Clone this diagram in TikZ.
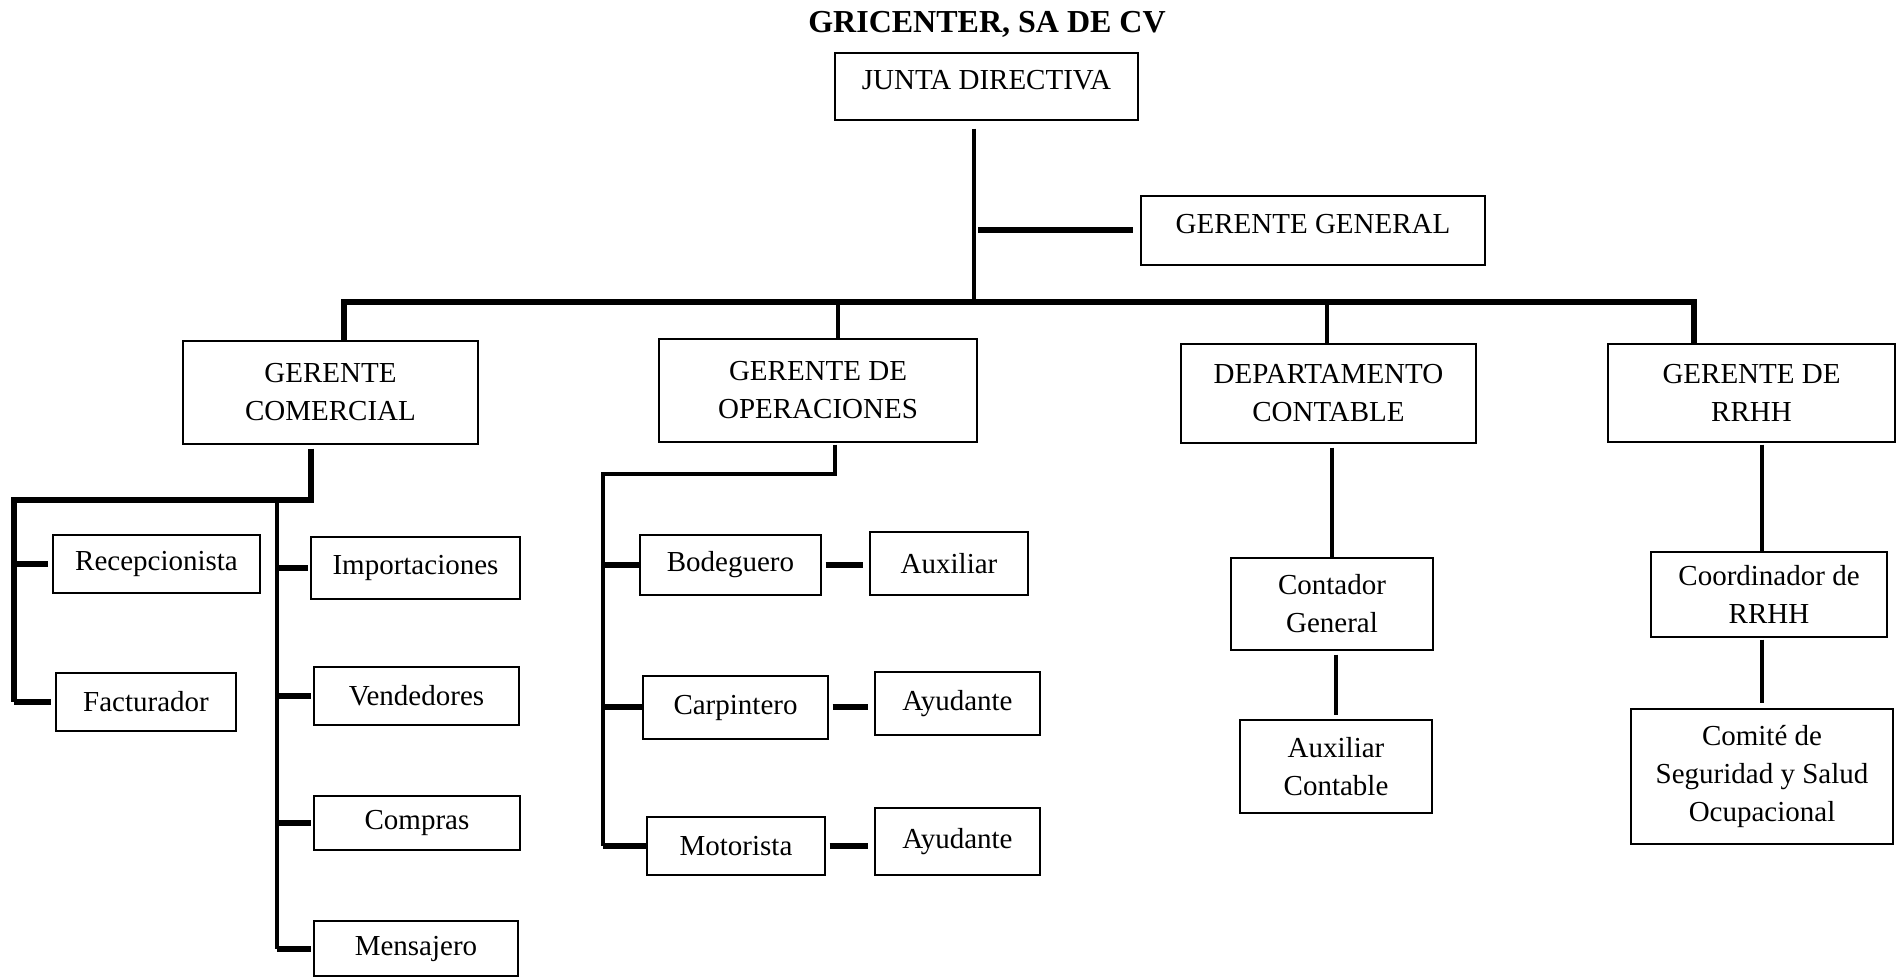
\documentclass[tikz,border=0pt]{standalone}
\usepackage{fontspec}
\setmainfont{Liberation Serif}
\tikzset{
  caja/.style={draw, line width=0.7pt, align=center, inner sep=0pt,
    font=\fontsize{14.5}{19}\selectfont},
  titulo/.style={font=\bfseries\fontsize{16}{19}\selectfont},
  linea/.style={line width=2.3pt, line join=miter},
  tramo/.style={line width=3pt}
}
\begin{document}
\begin{tikzpicture}[x=0.5pt, y=-0.5pt]
	\useasboundingbox (0,0) rectangle (1900,977);
	% title and top level
	\node[titulo] (title) at (987,24) {GRICENTER, SA DE CV};
	\node[caja, minimum width=151.5pt, minimum height=33.5pt, text depth=6.5pt] (junta) at (986.5,86.5) {JUNTA DIRECTIVA};
	\node[caja, minimum width=172pt, minimum height=34.5pt, text depth=6.5pt] (gg) at (1313,230.5) {GERENTE GENERAL};
	% managers
	\node[caja, minimum width=147.5pt, minimum height=51.5pt] (gc) at (330.5,392.5) {GERENTE\\COMERCIAL};
	\node[caja, minimum width=159pt, minimum height=51.5pt] (go) at (818,390.5) {GERENTE DE\\OPERACIONES};
	\node[caja, minimum width=147.5pt, minimum height=49.5pt] (dc) at (1328.5,393.5) {DEPARTAMENTO\\CONTABLE};
	\node[caja, minimum width=143.5pt, minimum height=49pt] (grh) at (1751.5,393) {GERENTE DE\\RRHH};
	% comercial
	\node[caja, minimum width=103.5pt, minimum height=29pt] (rec) at (156.5,564) {Recepcionista};
	\node[caja, minimum width=90pt, minimum height=29pt] (fac) at (146,702) {Facturador};
	\node[caja, minimum width=104.5pt, minimum height=31pt] (imp) at (415.5,568) {Importaciones};
	\node[caja, minimum width=102.5pt, minimum height=29pt] (ven) at (416.5,696) {Vendedores};
	\node[caja, minimum width=103pt, minimum height=27pt] (com) at (417,823) {Compras};
	\node[caja, minimum width=102pt, minimum height=27.5pt] (men) at (416,948.5) {Mensajero};
	% operaciones
	\node[caja, minimum width=90.5pt, minimum height=30pt] (bod) at (730.5,565) {Bodeguero};
	\node[caja, minimum width=79pt, minimum height=31.5pt] (aux) at (949,563.5) {Auxiliar};
	\node[caja, minimum width=92.5pt, minimum height=31.5pt] (car) at (735.5,707.5) {Carpintero};
	\node[caja, minimum width=82.5pt, minimum height=31.5pt] (ay1) at (957.5,703.5) {Ayudante};
	\node[caja, minimum width=89pt, minimum height=29pt] (mot) at (736,846) {Motorista};
	\node[caja, minimum width=82.5pt, minimum height=33.5pt] (ay2) at (957.5,841.5) {Ayudante};
	% contable
	\node[caja, minimum width=101pt, minimum height=46pt] (cg) at (1332,604) {Contador\\General};
	\node[caja, minimum width=96pt, minimum height=46.5pt] (ac) at (1336,766.5) {Auxiliar\\Contable};
	% rrhh
	\node[caja, minimum width=118pt, minimum height=42.5pt] (crh) at (1769,594.5) {Coordinador de\\RRHH};
	\node[caja, minimum width=131pt, minimum height=67.5pt] (csso) at (1762,776.5) {Comité de\\Seguridad y Salud\\Ocupacional};
	% main bus
	\coordinate (jb) at (974,302);
	\coordinate (b1) at (344,302);
	\coordinate (b2) at (838,302);
	\coordinate (b3) at (1327,302);
	\coordinate (b4) at (1694,302);
	\draw[linea, shorten <=4pt] (jb |- junta.south) -- (jb);
	\draw[tramo, shorten <=2pt, shorten >=3.5pt] (jb |- gg.west) -- (gg.west);
	\draw[linea, line width=2.8pt] (b1 |- gc.north) -- (b1) -- (b4) -- (b4 |- grh.north);
	\draw[linea] (b2) -- (b2 |- go.north);
	\draw[linea] (b3) -- (b3 |- dc.north);
	% comercial branches
	\coordinate (c0) at (311,500);
	\coordinate (c1) at (14,500);
	\coordinate (c2) at (277,500);
	\draw[linea, line width=2.6pt, shorten <=2pt] (c0 |- gc.south) -- (c0) -- (c1) -- (c1 |- fac.west);
	\draw[linea] (c2) -- (c2 |- men.west);
	\foreach \n in {rec,fac}
		\draw[tramo, shorten >=2pt] (c1 |- \n.west) -- (\n.west);
	\foreach \n in {imp,ven,com,men}
		\draw[tramo, shorten >=1pt] (c2 |- \n.west) -- (\n.west);
	% operaciones branches
	\coordinate (o0) at (835,474);
	\coordinate (o1) at (603,474);
	\draw[linea, shorten <=1pt] (o0 |- go.south) -- (o0) -- (o1) -- (o1 |- mot.west);
	\foreach \n in {bod,car,mot}
		\draw[tramo] (o1 |- \n.west) -- (\n.west);
	\draw[tramo, shorten <=2pt, shorten >=3pt] (bod.east) -- (bod.east -| aux.west);
	\draw[tramo, shorten <=2pt, shorten >=3pt] (car.east) -- (car.east -| ay1.west);
	\draw[tramo, shorten <=2pt, shorten >=3pt] (mot.east) -- (mot.east -| ay2.west);
	% contable and rrhh
	\draw[linea, shorten <=2pt] (cg.north |- dc.south) -- (cg.north);
	\draw[linea, shorten <=2pt, shorten >=2pt] (ac.north |- cg.south) -- (ac.north);
	\draw[linea, shorten <=1pt] (csso.north |- grh.south) -- (csso.north |- crh.north);
	\draw[linea, shorten <=1pt, shorten >=2.5pt] (csso.north |- crh.south) -- (csso.north);
\end{tikzpicture}
\end{document}
